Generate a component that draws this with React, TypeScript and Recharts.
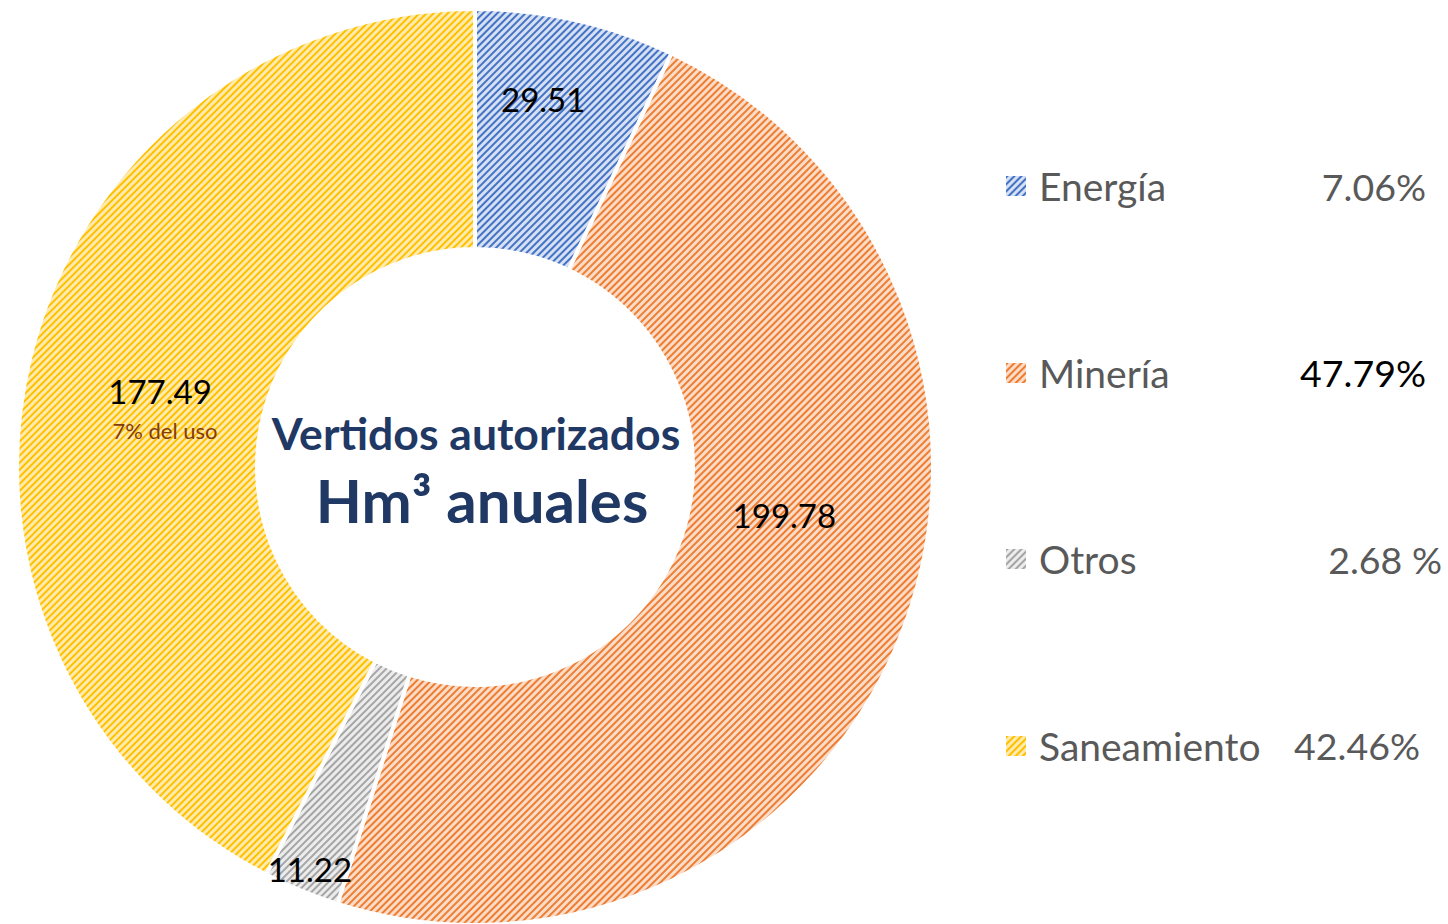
import React from "react";
import { PieChart, Pie, Cell, Legend } from "recharts";

const categories = ["Energía", "Minería", "Otros", "Saneamiento"];
const volumes = [29.51, 199.78, 11.22, 177.49];
const shareLabels = ["7.06%", "47.79%", "2.68 %", "42.46%"];
const notes = ["", "", "", "7% del uso"];

const data = categories.map((name, i) => ({ name, value: volumes[i] }));

const hatch = [
  { id: "pat-energia", line: "#4472C4", bg: "#D6E0F3" },
  { id: "pat-mineria", line: "#ED7D31", bg: "#FBDCC8" },
  { id: "pat-otros", line: "#A5A5A5", bg: "#ECECEC" },
  { id: "pat-saneamiento", line: "#FFC000", bg: "#FFEBB0" },
];

// nudges to match where the original labels sit
const labelPlace = [
  { r: 374, shift: 2.2 },
  { r: 313, shift: 12.7 },
  { r: 435, shift: 0 },
  { r: 324, shift: 0 },
];

const CX = 475;
const CY = 467;
const FONT = "Lato, 'Open Sans', sans-serif";
const RAD = Math.PI / 180;

const renderLabel = (props: any) => {
  const { cx, cy, midAngle, index } = props;
  const p = labelPlace[index];
  const a = (midAngle + p.shift) * RAD;
  const x = cx + p.r * Math.cos(-a);
  const y = cy + p.r * Math.sin(-a);
  return (
    <g>
      <text
        x={x}
        y={y}
        textAnchor="middle"
        dominantBaseline="central"
        fill="#000"
        fontSize={33}
        fontFamily={FONT}
      >
        {volumes[index].toFixed(2)}
      </text>
      {notes[index] && (
        <text
          x={x + 5}
          y={y + 40}
          textAnchor="middle"
          dominantBaseline="central"
          fill="#843C0C"
          fontSize={22}
          fontFamily={FONT}
        >
          {notes[index]}
        </text>
      )}
    </g>
  );
};

const LegendBox = () => (
  <div style={{ fontFamily: FONT }}>
    {categories.map((c, i) => (
      <div
        key={c}
        style={{ height: 186.5, display: "flex", alignItems: "center", position: "relative" }}
      >
        <svg width={20} height={20} style={{ marginLeft: 6, marginRight: 13 }}>
          <rect width={20} height={20} fill={`url(#${hatch[i].id})`} />
        </svg>
        <span style={{ fontSize: 39, color: "#595959" }}>{c}</span>
        <span
          style={{
            position: "absolute",
            right: i === 2 ? 0 : i === 3 ? 22 : 16,
            fontSize: 37.5,
            color: i === 1 ? "#000" : "#595959",
          }}
        >
          {shareLabels[i]}
        </span>
      </div>
    ))}
  </div>
);

export default function App() {
  return (
    <div style={{ position: "absolute", left: 0, top: 0, background: "#fff" }}>
      <PieChart width={1448} height={924} margin={{ top: 0, right: 0, bottom: 0, left: 0 }}>
        <defs>
          {hatch.map((h) => (
            <pattern
              key={h.id}
              id={h.id}
              width={5}
              height={5}
              patternUnits="userSpaceOnUse"
              patternTransform="rotate(45)"
            >
              <rect width={5} height={5} fill={h.bg} />
              <rect width={2} height={5} fill={h.line} />
            </pattern>
          ))}
        </defs>
        <Pie
          data={data}
          dataKey="value"
          nameKey="name"
          cx={CX}
          cy={CY}
          innerRadius={218}
          outerRadius={458}
          startAngle={90}
          endAngle={-270}
          stroke="#fff"
          strokeWidth={4}
          label={renderLabel}
          labelLine={false}
          isAnimationActive={false}
        >
          {data.map((d, i) => (
            <Cell key={d.name} fill={`url(#${hatch[i].id})`} />
          ))}
        </Pie>
        <g fontFamily={FONT} fontWeight="bold" fill="#1F3864">
          <text x={CX + 1} y={CY - 35} textAnchor="middle" dominantBaseline="central" fontSize={44.5}>
            Vertidos autorizados
          </text>
          <text x={CX + 7} y={CY + 33} textAnchor="middle" dominantBaseline="central" fontSize={60}>
            Hm³ anuales
          </text>
        </g>
        <Legend
          content={LegendBox}
          wrapperStyle={{ position: "absolute", left: 1000, top: 93, width: 442 }}
        />
      </PieChart>
    </div>
  );
}
